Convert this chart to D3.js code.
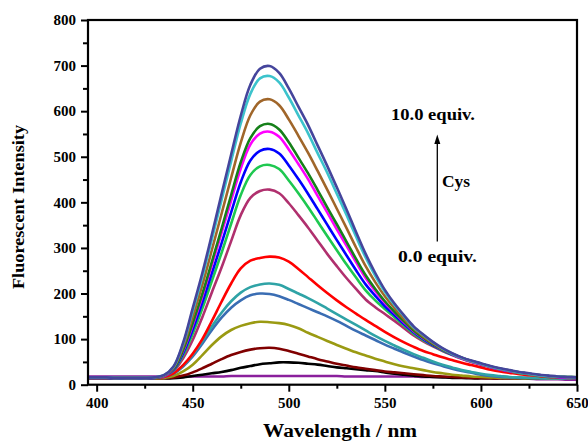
<!DOCTYPE html>
<html>
<head>
<meta charset="utf-8">
<script src="https://cdn.jsdelivr.net/npm/d3@7/dist/d3.min.js"></script>
<style>
  html, body { margin: 0; padding: 0; background: #fff; }
  svg { display: block; }
  text { font-family: "Liberation Serif", "Times New Roman", serif; font-weight: bold; fill: #000; }
</style>
</head>
<body>
<svg id="chart" width="588" height="442"></svg>
<script>
// Emission wavelengths (nm), sampled every 5 nm
const wavelengths = [395,400,405,410,415,420,425,430,435,440,445,450,455,460,465,470,475,480,485,490,495,500,505,510,515,520,525,530,535,540,545,550,555,560,565,570,575,580,585,590,595,600,605,610,615,620,625,630,635,640,645,650];

// Fluorescence spectra, from 0.0 equiv. Cys (first) up to 10.0 equiv. (last)
const spec00 = [18,18,18,18,18,18,18,18,18,18,18,18,18,18,18,19,19,19,19,19,19,19,19,19,19,19,19,18,18,18,18,18,18,18,18,17,17,17,16,16,16,15,15,14,14,13,13,12,12,12,11,11];
const spec01 = [14,14,14,14,14,14,14,14,14,14,16,19,22,25,28,32,37,41,45,47,49,49,48,46,44,41,38,36,34,32,30,27,24,22,20,18,17,16,15,15,14,14,14,14,14,14,13,13,13,13,13,13];
const spec02 = [14,14,14,14,14,14,14,14,14,16,20,27,36,46,56,65,72,77,80,81,79,74,68,62,56,51,46,42,38,35,32,29,27,25,23,21,19,18,17,16,15,15,14,14,14,14,14,13,13,13,13,13];
const spec03 = [14,14,14,14,14,14,14,14,15,19,29,44,65,87,106,120,129,135,138,137,135,131,124,114,105,96,87,79,71,64,57,51,45,40,36,32,28,25,22,20,18,17,16,15,15,14,14,14,13,13,13,13];
const spec04 = [15,15,15,14,14,14,14,15,17,24,40,62,90,120,147,169,185,196,200,199,194,186,177,168,159,150,140,129,118,108,98,88,79,70,62,54,47,41,35,30,26,22,19,17,16,15,15,14,14,14,13,13];
const spec05 = [15,15,15,14,14,14,14,15,17,25,42,66,96,128,158,183,202,214,220,222,219,210,200,190,179,167,155,143,131,119,107,96,86,76,67,59,51,44,38,32,28,24,21,19,17,16,15,15,14,14,14,14];
const spec06 = [14,14,14,14,14,14,14,15,17,25,43,68,100,140,182,222,255,272,278,281,279,270,254,236,218,201,185,170,156,142,129,116,104,93,83,74,67,60,54,48,43,38,33,29,26,23,21,19,17,16,15,14];
const spec07 = [15,15,15,14,14,14,14,15,18,30,58,98,148,203,257,315,372,410,425,428,420,398,372,345,316,287,260,234,210,187,170,155,140,124,108,95,84,74,65,57,50,44,38,33,29,26,23,20,18,17,16,15];
const spec08 = [15,15,15,14,14,14,14,15,19,32,65,112,167,228,289,353,416,460,479,482,473,448,420,390,358,326,295,264,235,207,185,166,148,130,112,98,86,75,66,58,51,45,39,34,30,26,23,20,18,17,16,15];
const spec09 = [15,15,15,14,14,14,14,15,19,33,69,121,180,245,310,378,444,492,513,517,507,481,451,419,385,351,317,284,251,220,195,172,153,133,115,100,87,76,66,58,51,45,39,34,30,27,24,21,19,17,16,15];
const spec10 = [15,15,15,15,15,15,15,15,19,35,74,131,194,263,333,404,474,527,551,555,544,516,484,451,414,378,341,305,269,234,205,180,158,137,117,102,89,77,67,58,51,45,39,34,30,27,24,21,19,17,16,15];
const spec11 = [15,15,15,15,15,15,15,15,20,35,76,135,199,270,342,416,488,541,567,572,560,532,498,464,427,389,352,314,276,240,210,183,160,139,119,103,89,77,67,59,52,46,40,35,31,27,24,21,19,18,17,16];
const spec12 = [16,16,16,15,15,15,15,16,20,37,83,149,219,296,375,454,531,591,621,626,613,582,546,509,469,428,386,344,301,260,225,194,168,144,123,106,91,78,68,59,52,46,40,35,31,27,24,21,19,18,17,16];
const spec13 = [16,16,16,15,15,15,15,16,21,39,89,162,237,320,405,490,573,638,672,677,663,630,591,552,508,465,419,373,325,279,239,204,175,150,126,109,93,79,68,59,52,46,40,35,31,27,24,21,19,18,17,16];
const spec14 = [16,16,16,15,15,15,15,16,21,40,92,168,245,330,418,505,590,658,693,699,684,650,610,570,525,480,433,385,335,287,245,208,178,152,128,110,94,80,69,60,53,47,41,36,32,28,25,22,20,18,17,16];

const seriesValues = [spec00,spec01,spec02,spec03,spec04,spec05,spec06,spec07,spec08,spec09,spec10,spec11,spec12,spec13,spec14];
const seriesColors = ["#8a1f9c","#000000","#800000","#9a9a12","#3a6db3","#2fa3a6","#ff0000","#b0306e","#1ec850","#0000ff","#ff00ff","#16801a","#a0662a","#3cc3cc","#45459c"];

// Axis ticks
const xTicks = [400,450,500,550,600,650];
const xMinorTicks = [425,475,525,575,625];
const yTicks = [0,100,200,300,400,500,600,700,800];
const yMinorTicks = [50,150,250,350,450,550,650,750];

const plot = { left: 88, right: 577, top: 20, bottom: 384.7 };

const svg = d3.select("#chart");

const x = d3.scaleLinear().domain([395.5, 650]).range([plot.left, plot.right]);
const y = d3.scaleLinear().domain([0, 800]).range([plot.bottom, plot.top]);

svg.append("defs").append("clipPath").attr("id", "plotClip")
  .append("rect")
  .attr("x", plot.left).attr("y", plot.top)
  .attr("width", plot.right - plot.left).attr("height", plot.bottom - plot.top);

// Spectra
const line = d3.line()
  .x((d, i) => x(wavelengths[i]))
  .y(d => y(d))
  .curve(d3.curveCatmullRom.alpha(0.5));

svg.append("g").attr("clip-path", "url(#plotClip)")
  .selectAll("path")
  .data(seriesValues)
  .join("path")
  .attr("d", d => line(d))
  .attr("fill", "none")
  .attr("stroke", (d, i) => seriesColors[i])
  .attr("stroke-width", 2.6)
  .attr("stroke-linejoin", "round");

// Axes
const xAxis = d3.axisBottom(x).tickValues(xTicks).tickSize(7).tickPadding(6).tickFormat(d3.format("d"));
const xAxisMinor = d3.axisBottom(x).tickValues(xMinorTicks).tickSize(4).tickFormat("");
const yAxis = d3.axisLeft(y).tickValues(yTicks).tickSize(7).tickPadding(5).tickFormat(d3.format("d"));
const yAxisMinor = d3.axisLeft(y).tickValues(yMinorTicks).tickSize(5).tickFormat("");

function styleAxis(g) {
  g.select(".domain").remove();
  g.selectAll(".tick line").attr("stroke", "#000").attr("stroke-width", 2);
  g.selectAll(".tick text").attr("font-size", 15).attr("font-family", "Liberation Serif, serif").attr("font-weight", "bold").attr("fill", "#000");
}

svg.append("g").attr("transform", `translate(0,${plot.bottom})`).call(xAxis).call(styleAxis);
svg.append("g").attr("transform", `translate(0,${plot.bottom})`).call(xAxisMinor).call(styleAxis);
svg.append("g").attr("transform", `translate(${plot.left},0)`).call(yAxis).call(styleAxis);
svg.append("g").attr("transform", `translate(${plot.left},0)`).call(yAxisMinor).call(styleAxis);

// Frame
svg.append("rect")
  .attr("x", plot.left).attr("y", plot.top)
  .attr("width", plot.right - plot.left).attr("height", plot.bottom - plot.top)
  .attr("fill", "none").attr("stroke", "#000").attr("stroke-width", 2.2);

// Axis titles
svg.append("text")
  .attr("x", 340).attr("y", 437)
  .attr("text-anchor", "middle").attr("font-size", 18.5)
  .attr("textLength", 154).attr("lengthAdjust", "spacingAndGlyphs")
  .text("Wavelength / nm");

svg.append("text")
  .attr("transform", "translate(24,207) rotate(-90)")
  .attr("text-anchor", "middle").attr("font-size", 17)
  .attr("textLength", 164).attr("lengthAdjust", "spacingAndGlyphs")
  .text("Fluorescent Intensity");

// Titration annotation: arrow pointing toward increasing Cys
svg.append("line")
  .attr("x1", 437.3).attr("y1", 241.5)
  .attr("x2", 437.3).attr("y2", 141)
  .attr("stroke", "#000").attr("stroke-width", 1.3);
svg.append("path")
  .attr("d", "M437.3,134.5 L434.3,144 L440.3,144 Z")
  .attr("fill", "#000");

svg.append("text").attr("x", 391).attr("y", 120).attr("font-size", 17)
  .attr("textLength", 84).attr("lengthAdjust", "spacingAndGlyphs").text("10.0 equiv.");
svg.append("text").attr("x", 442).attr("y", 187).attr("font-size", 17)
  .attr("textLength", 28).attr("lengthAdjust", "spacingAndGlyphs").text("Cys");
svg.append("text").attr("x", 398).attr("y", 261.5).attr("font-size", 17)
  .attr("textLength", 79).attr("lengthAdjust", "spacingAndGlyphs").text("0.0 equiv.");
</script>
</body>
</html>
